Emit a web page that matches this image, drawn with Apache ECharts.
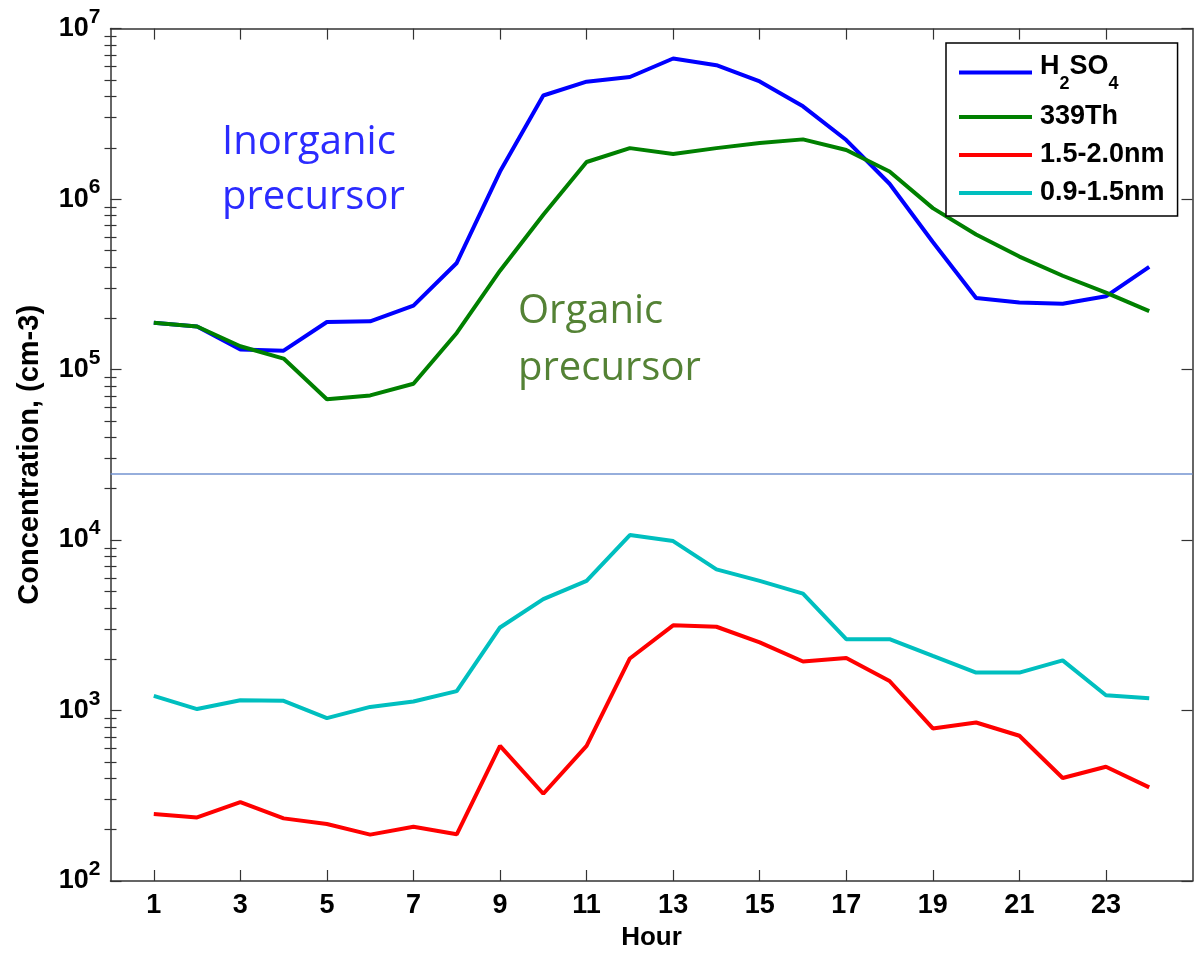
<!DOCTYPE html>
<html><head><meta charset="utf-8">
<script src="https://cdn.jsdelivr.net/npm/echarts@6/dist/echarts.min.js"></script>
<style>html,body{margin:0;padding:0;background:#fff}#chart{width:1195px;height:956px}</style>
</head><body><div id="chart"></div>
<script>
const hours = [1,2,3,4,5,6,7,8,9,10,11,12,13,14,15,16,17,18,19,20,21,22,23,24];
const h2so4 = [1.88e5,1.79e5,1.31e5,1.29e5,1.90e5,1.92e5,2.37e5,4.22e5,1.45e6,4.05e6,4.88e6,5.20e6,6.68e6,6.10e6,4.90e6,3.50e6,2.22e6,1.23e6,5.6e5,2.63e5,2.47e5,2.43e5,2.69e5,4.0e5];
const th339 = [1.88e5,1.79e5,1.37e5,1.16e5,6.7e4,7.05e4,8.25e4,1.64e5,3.8e5,8.1e5,1.65e6,1.99e6,1.84e6,1.99e6,2.13e6,2.24e6,1.94e6,1.45e6,8.85e5,6.2e5,4.6e5,3.55e5,2.83e5,2.2e5];
const nm15_20 = [247,236,290,233,216,187,208,188,620,325,621,2020,3160,3100,2510,1940,2030,1490,785,851,711,402,468,354];
const nm09_15 = [1220,1020,1150,1140,902,1050,1130,1300,3070,4500,5760,10700,9860,6730,5760,4850,2620,2620,2090,1670,1670,1970,1230,1180];
const xTickValues = [1,3,5,7,9,11,13,15,17,19,21,23];
const yDecades = [1e2,1e3,1e4,1e5,1e6,1e7];
const dividerLevel = 24400;
const seriesNames = ['H2SO4','339Th','1.5-2.0nm','0.9-1.5nm'];

const yMinor = [];
for (let d = 2; d < 7; d++) for (let m = 2; m <= 9; m++) yMinor.push(m * Math.pow(10, d));

const FONT = '"Liberation Sans", Arial, sans-serif';
const AX = '#333';
const chart = echarts.init(document.getElementById('chart'), null, {renderer:'canvas'});

const yBase = {type:'log', logBase:10, min:100, max:1e7, splitLine:{show:false}};
const xBase = {type:'value', min:0, max:25, splitLine:{show:false}};

function mk(name, arr, color, extra) {
  return Object.assign({
    name, type:'line', showSymbol:false, symbol:'none', xAxisIndex:0, yAxisIndex:0,
    data: hours.map((h,i)=>[h, arr[i]]),
    lineStyle:{color, width:4}, itemStyle:{color}, emphasis:{disabled:true}
  }, extra||{});
}

const option = {
  animation:false,
  backgroundColor:'#fff',
  grid:{left:110.5, right:2.5, top:28.6, bottom:73.3, containLabel:false},
  xAxis:[
    Object.assign({}, xBase, {position:'bottom',
      axisLine:{show:true, onZero:false, lineStyle:{color:AX, width:1.5}},
      axisTick:{show:true, inside:true, length:11, customValues:xTickValues, lineStyle:{color:AX, width:1.2}},
      axisLabel:{show:true, customValues:xTickValues, margin:11, color:'#000', fontFamily:FONT, fontWeight:'bold', fontSize:27},
      name:'Hour', nameLocation:'middle', nameGap:44,
      nameTextStyle:{color:'#000', fontFamily:FONT, fontWeight:'bold', fontSize:26}}),
    Object.assign({}, xBase, {position:'top',
      axisLine:{show:true, onZero:false, lineStyle:{color:AX, width:1.5}},
      axisTick:{show:true, inside:true, length:11, customValues:xTickValues, lineStyle:{color:AX, width:1.2}},
      axisLabel:{show:false}})
  ],
  yAxis:[
    Object.assign({}, yBase, {position:'left',
      axisLine:{show:true, onZero:false, lineStyle:{color:AX, width:1.5}},
      axisTick:{show:true, inside:true, length:11, customValues:yDecades, lineStyle:{color:AX, width:1.2}},
      axisLabel:{show:true, customValues:yDecades, margin:10, color:'#000',
        formatter: v => '{a|10}{s|' + Math.round(Math.log10(v)) + '}',
        rich:{
          a:{fontFamily:FONT, fontWeight:'bold', fontSize:27, color:'#000', lineHeight:44},
          s:{fontFamily:FONT, fontWeight:'bold', fontSize:21, color:'#000', lineHeight:21, verticalAlign:'top'}
        }},
      name:'Concentration, (cm-3)', nameLocation:'middle', nameGap:66, nameRotate:90,
      nameTextStyle:{color:'#000', fontFamily:FONT, fontWeight:'bold', fontSize:29}}),
    Object.assign({}, yBase, {position:'right',
      axisLine:{show:true, onZero:false, lineStyle:{color:AX, width:1.5}},
      axisTick:{show:true, inside:true, length:11, customValues:yDecades, lineStyle:{color:AX, width:1.2}},
      axisLabel:{show:false}}),
    Object.assign({}, yBase, {position:'left',
      axisLine:{show:false},
      axisTick:{show:true, inside:true, length:6, customValues:yMinor, lineStyle:{color:AX, width:1.2}},
      axisLabel:{show:false}}),
    Object.assign({}, yBase, {position:'right',
      axisLine:{show:false},
      axisTick:{show:true, inside:true, length:6, customValues:yMinor, lineStyle:{color:AX, width:1.2}},
      axisLabel:{show:false}})
  ],
  legend:{
    show:true, orient:'vertical', left:946, top:43,
    padding:[9,13,9,13], itemGap:10, itemWidth:73, itemHeight:4, icon:'rect',
    borderColor:'#000', borderWidth:1.5, backgroundColor:'#fff',
    data: seriesNames,
    formatter: n => n === 'H2SO4' ? '{f|H}{s|2}{b|SO}{s|4}' : '{p|' + n + '}',
    textStyle:{fontFamily:FONT, fontWeight:'bold', fontSize:27, color:'#000', lineHeight:28,
      rich:{
        p:{fontFamily:FONT, fontWeight:'bold', fontSize:27, color:'#000', lineHeight:28, padding:[0,0,0,3]},
        f:{fontFamily:FONT, fontWeight:'bold', fontSize:27, color:'#000', lineHeight:28, padding:[0,0,12,3]},
        b:{fontFamily:FONT, fontWeight:'bold', fontSize:27, color:'#000', lineHeight:28, padding:[0,0,12,0]},
        s:{fontFamily:FONT, fontWeight:'bold', fontSize:18, color:'#000', lineHeight:18, padding:[23,0,0,0]}
      }}
  },
  graphic:[
    {type:'text', left:222, top:115, z:50, style:{text:'Inorganic\nprecursor', fill:'#2b2bff', font:'40px "Open Sans", sans-serif', lineHeight:55}},
    {type:'text', left:518, top:283, z:50, style:{text:'Organic\nprecursor', fill:'#548235', font:'40px "Open Sans", sans-serif', lineHeight:57}}
  ],
  series:[
    mk(seriesNames[0], h2so4, '#0000ff', {markLine:{silent:true, symbol:'none', label:{show:false},
      lineStyle:{color:'#7393d0', width:1.5, type:'solid'}, data:[{yAxis:dividerLevel}]}}),
    mk(seriesNames[1], th339, '#008000'),
    mk(seriesNames[2], nm15_20, '#ff0000'),
    mk(seriesNames[3], nm09_15, '#00bfbf')
  ]
};
chart.setOption(option);
</script></body></html>
